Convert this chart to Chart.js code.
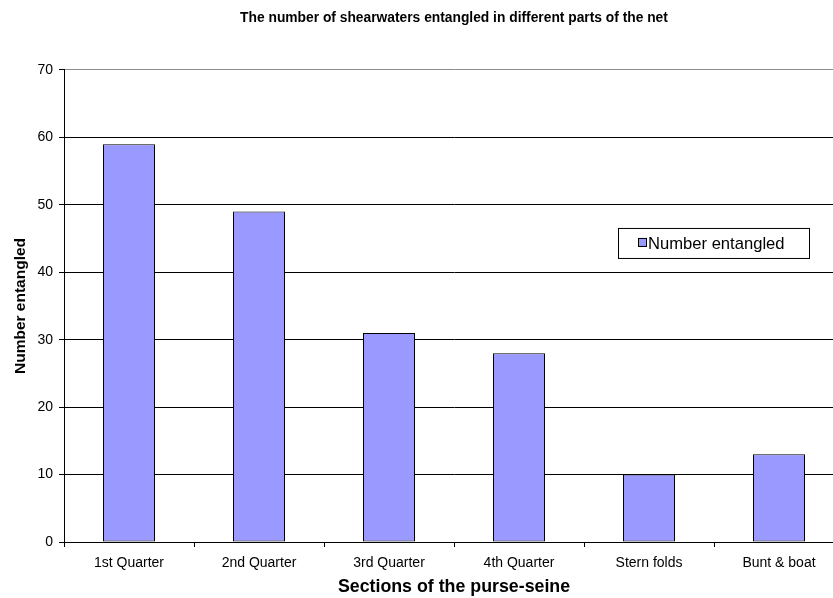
<!DOCTYPE html>
<html>
<head>
<meta charset="utf-8">
<title>Shearwaters entangled</title>
<script src="https://cdn.jsdelivr.net/npm/chart.js"></script>
<style>
  html, body { margin: 0; padding: 0; overflow: hidden; background: #fff; }
  #chart { display: block; }
</style>
</head>
<body>
<!-- plot runs a little past the right edge of the window, like the original -->
<canvas id="chart" width="847" height="598"></canvas>
<script>
// Data
const sections = ['1st Quarter', '2nd Quarter', '3rd Quarter', '4th Quarter', 'Stern folds', 'Bunt & boat'];
const numberEntangled = [59, 49, 31, 28, 10, 13];
const yTicks = [0, 10, 20, 30, 40, 50, 60, 70];
const seriesName = 'Number entangled';
const chartTitle = 'The number of shearwaters entangled in different parts of the net';
const xTitle = 'Sections of the purse-seine';
const yTitle = 'Number entangled';

const family = 'Arial, "Liberation Sans", sans-serif';

// Legend box sitting inside the plot area
const boxLegend = {
  id: 'boxLegend',
  afterDraw(chart) {
    const ctx = chart.ctx;
    const ds = chart.data.datasets[0];
    const a = chart.chartArea;
    const x = a.left + 554, y = a.top + 158, w = 191, h = 30;
    ctx.save();
    ctx.fillStyle = '#fff';
    ctx.fillRect(x, y, w, h);
    ctx.strokeStyle = '#000';
    ctx.lineWidth = 1;
    ctx.strokeRect(x + 0.5, y + 0.5, w, h);
    // swatch
    ctx.fillStyle = ds.backgroundColor;
    ctx.fillRect(x + 20, y + 10, 9, 9);
    ctx.strokeRect(x + 20.5, y + 10.5, 8, 8);
    ctx.fillStyle = '#000';
    ctx.font = '16.6px ' + family;
    ctx.textBaseline = 'middle';
    ctx.textAlign = 'left';
    ctx.fillText(ds.label, x + 30, y + h / 2 + 1);
    ctx.restore();
  }
};

const chart = new Chart(document.getElementById('chart'), {
  type: 'bar',
  data: {
    labels: sections,
    datasets: [{
      label: seriesName,
      data: numberEntangled,
      backgroundColor: '#9999ff',
      borderColor: '#000',
      borderWidth: 1,
      borderSkipped: false,
      barPercentage: 0.4,
      categoryPercentage: 1.0
    }]
  },
  options: {
    responsive: false,
    animation: false,
    layout: { padding: { left: 0, right: 3, top: 0, bottom: 0 } },
    plugins: {
      legend: { display: false },
      tooltip: { enabled: false },
      title: {
        display: true,
        text: chartTitle,
        fullSize: false,
        color: '#000',
        font: { family, size: 13.8, weight: 'bold' },
        padding: { top: 10, bottom: 43.4 }
      }
    },
    scales: {
      x: {
        offset: true,
        grid: { offset: true, drawOnChartArea: false, drawTicks: true, tickLength: 5, color: '#000' },
        border: { color: '#000' },
        ticks: { color: '#000', font: { family, size: 14 }, padding: 8, maxRotation: 0, autoSkip: false },
        title: {
          display: true,
          text: xTitle,
          color: '#000',
          font: { family, size: 17.8, weight: 'bold' },
          padding: { top: 0, bottom: 0 }
        },
        afterFit(scale) { scale.height = 56; }
      },
      y: {
        min: 0,
        max: 70,
        afterBuildTicks(scale) { scale.ticks = yTicks.map(v => ({ value: v })); },
        grid: {
          color: c => (c.tick && c.tick.value === 70 ? '#8c8c8c' : '#000'),
          tickColor: '#000',
          drawTicks: true,
          tickLength: 5
        },
        border: { color: '#000' },
        ticks: { color: '#000', font: { family, size: 14 }, padding: 6 },
        title: {
          display: true,
          text: yTitle,
          color: '#000',
          font: { family, size: 15.5, weight: 'bold' },
          padding: { top: 11, bottom: 0 }
        },
        afterFit(scale) { scale.width = 64; }
      }
    }
  },
  plugins: [boxLegend]
});
</script>
</body>
</html>
